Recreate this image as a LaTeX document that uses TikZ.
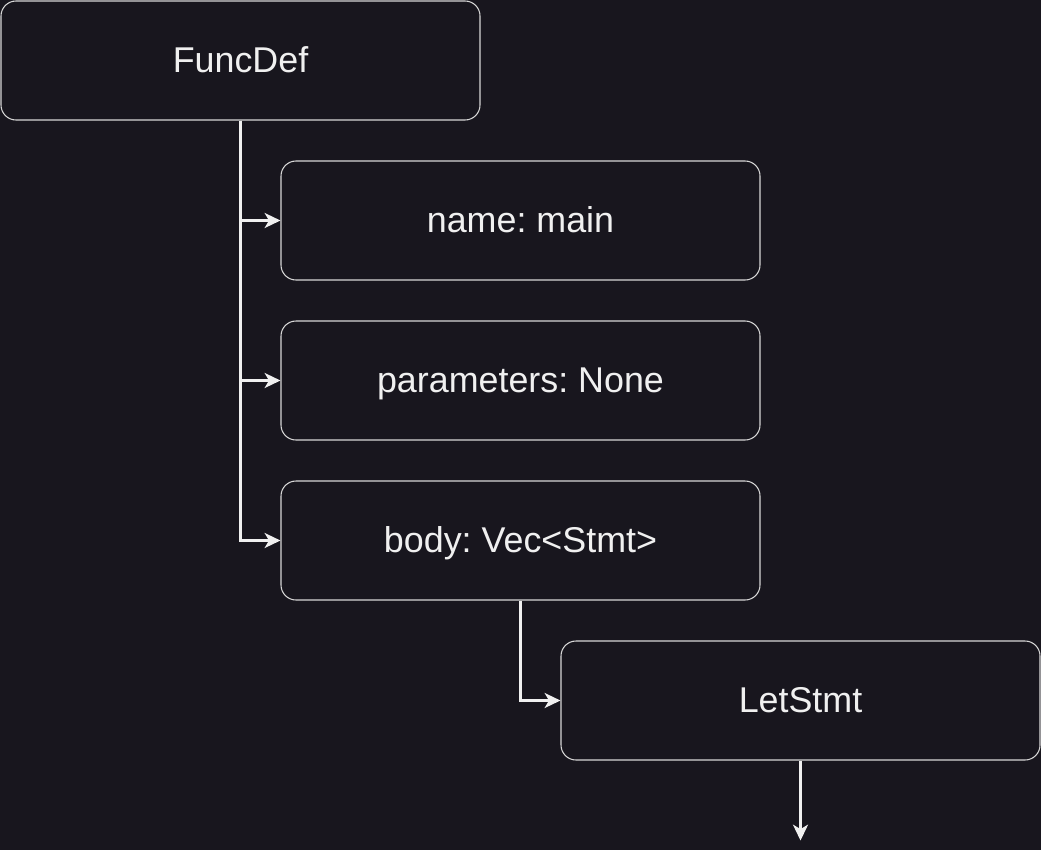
\documentclass[tikz,border=0pt]{standalone}
\usepackage{fontspec}
\setmainfont{Liberation Sans}
\usepackage{xcolor}
\usepackage{tikz}
\usetikzlibrary{positioning, arrows.meta}
\definecolor{bgdark}{RGB}{24,22,30}
\definecolor{edgegray}{RGB}{215,215,215}
\definecolor{linewhite}{RGB}{240,240,240}
\frenchspacing

\begin{document}
\begin{tikzpicture}[
    node distance=3.2cm,
    on grid,
    field/.style={rectangle, rounded corners=0.3cm, draw=edgegray, line width=0.6pt,
      fill=bgdark, text=linewhite, minimum width=9.58cm, minimum height=2.38cm,
      text height=16pt, text depth=2pt,
      font=\fontsize{20.4}{24}\selectfont},
    link/.style={draw=linewhite, line width=1.7pt,
      -{Stealth[length=9pt, width=8.5pt, inset=2.5pt]}}
]
  % background and page size
  \fill[bgdark] (0,0) rectangle (20.82,-17);
  \useasboundingbox (0,0) rectangle (20.82,-17);

  % AST nodes
  \node[field] (funcdef) at (4.81,-1.21) {FuncDef};
  \node[field] (name)   [below right=3.2cm and 5.6cm of funcdef] {name: main};
  \node[field] (params) [below=of name] {parameters: None};
  \node[field] (body)   [below=of params] {body: Vec<Stmt>};
  \node[field] (let)    [below right=3.2cm and 5.6cm of body] {LetStmt};
  \coordinate (next) at ([yshift=-1.6cm]let.south);

  % children of FuncDef
  \draw[link] (funcdef.south) |- (name.west);
  \draw[link] (funcdef.south) |- (params.west);
  \draw[link] (funcdef.south) |- (body.west);

  % statements in body
  \draw[link] (body.south) |- (let.west);
  \draw[link] (let.south) -- (next);
\end{tikzpicture}
\end{document}
